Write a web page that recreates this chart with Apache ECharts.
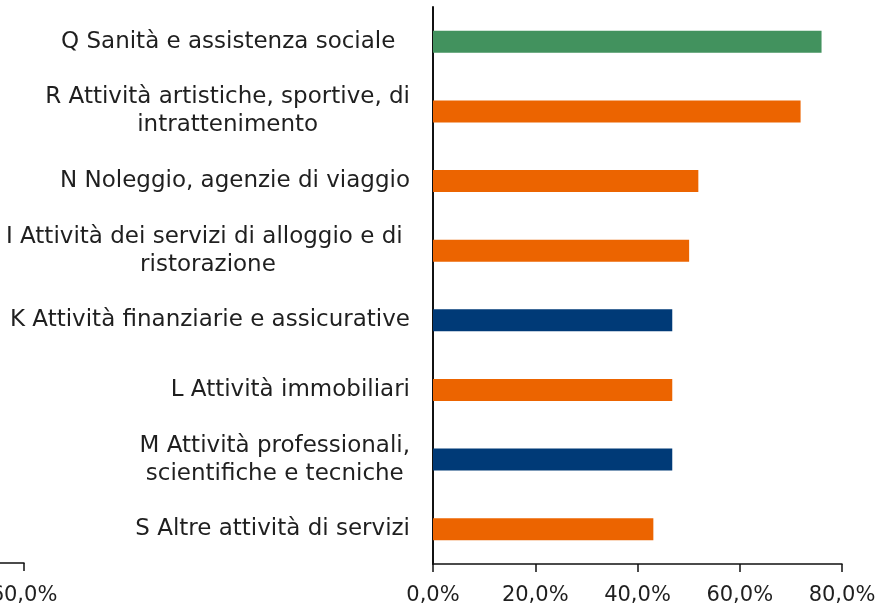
<!DOCTYPE html>
<html>
<head>
<meta charset="utf-8">
<script src="https://cdn.jsdelivr.net/npm/echarts@6/dist/echarts.min.js"></script>
<style>
  html, body { margin: 0; padding: 0; background: #fff; }
  #charts_box { width: 878px; height: 606px; }
</style>
</head>
<body>
<div id="charts_box"></div>
<script>
// settori (dall'alto verso il basso)
var categories = [
    'Q Sanità e assistenza sociale  ',
    'R Attività artistiche, sportive, di\nintrattenimento',
    'N Noleggio, agenzie di viaggio',
    'I Attività dei servizi di alloggio e di \nristorazione',
    'K Attività finanziarie e assicurative',
    'L Attività immobiliari',
    'M Attività professionali,\nscientifiche e tecniche',
    'S Altre attività di servizi'
];
// quota percentuale
var values = [76.0, 71.9, 51.9, 50.1, 46.8, 46.8, 46.8, 43.1];
// gruppo di appartenenza (determina il colore)
var groups = ['sanita', 'altri', 'altri', 'altri', 'finanza', 'altri', 'finanza', 'altri'];
// asse dei valori
var axisMin = 0, axisMax = 80, axisStep = 20;
// pezzo d'asse del grafico vicino (tagliato a sinistra)
var leftAxisMin = 40, leftAxisMax = 60, leftAxisLabels = [60];

var groupColors = { sanita: '#42925E', altri: '#EC6400', finanza: '#003A77' };
var FONT = 'DejaVu Sans';
var TEXT = '#1f1f1f';
var LINE = { color: '#111', width: 1.5 };

window.onload = function(){
    var myChart = echarts.init(document.getElementById("charts_box"));

    function pct(v){ return v.toFixed(1).replace('.', ',') + '%'; }

    var option = {
        animation: false,
        backgroundColor: '#fff',
        grid: [
            { left: 433, right: 36, top: 7, bottom: 42, outerBoundsMode: 'none' },
            { left: 0, width: 24, top: 7, bottom: 43, outerBoundsMode: 'none' }
        ],
        xAxis: [
            {
                type: 'value', gridIndex: 0,
                min: axisMin, max: axisMax, interval: axisStep,
                splitLine: { show: false },
                axisLine: { show: true, lineStyle: LINE },
                axisTick: { show: true, length: 8, lineStyle: LINE },
                axisLabel: { formatter: pct, color: TEXT, fontFamily: FONT, fontSize: 21, margin: 21 }
            },
            {
                type: 'value', gridIndex: 1,
                min: leftAxisMin, max: leftAxisMax, interval: axisStep,
                splitLine: { show: false },
                axisLine: { show: true, lineStyle: LINE },
                axisTick: { show: true, length: 8, customValues: leftAxisLabels, lineStyle: LINE },
                axisLabel: { formatter: pct, customValues: leftAxisLabels, color: TEXT, fontFamily: FONT, fontSize: 21, margin: 22 }
            }
        ],
        yAxis: [
            {
                type: 'category', gridIndex: 0,
                data: categories,
                inverse: true,
                axisLine: { show: true, lineStyle: { color: '#111', width: 2 } },
                axisTick: { show: false },
                axisLabel: {
                    align: 'right',
                    margin: 23,
                    formatter: function(v){
                        return v.split('\n').map(function(s){ return '{c|' + s + '}'; }).join('\n');
                    },
                    rich: {
                        c: { align: 'center', color: TEXT, fontFamily: FONT, fontSize: 23, lineHeight: 28 }
                    }
                }
            },
            {
                type: 'category', gridIndex: 1, show: false, data: []
            }
        ],
        series: [
            {
                type: 'bar',
                xAxisIndex: 0, yAxisIndex: 0,
                barWidth: 22,
                data: values.map(function(v, i){
                    return { value: v, itemStyle: { color: groupColors[groups[i]] } };
                })
            },
            {
                type: 'bar',
                xAxisIndex: 1, yAxisIndex: 1,
                data: []
            }
        ]
    };
    myChart.setOption(option);
};
</script>
</body>
</html>
